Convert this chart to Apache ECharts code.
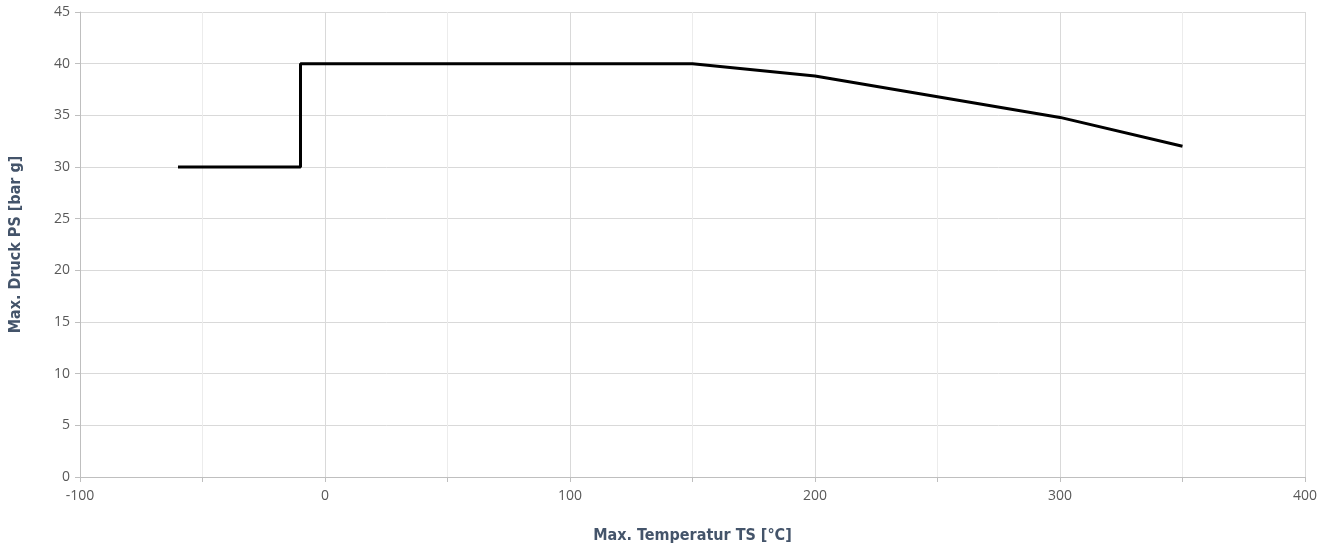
<!DOCTYPE html>
<html>
<head>
<meta charset="utf-8">
<script src="https://cdn.jsdelivr.net/npm/echarts@6/dist/echarts.min.js"></script>
<style>html,body{margin:0;padding:0;background:#fff}#c{width:1325px;height:549px}</style>
</head>
<body>
<div id="c"></div>
<script>
const temperatures = [-60, -10, -10, 150, 200, 300, 350];
const pressures = [30, 30, 40, 40, 38.8, 34.8, 32];
const xTitle = 'Max. Temperatur TS [°C]';
const yTitle = 'Max. Druck PS [bar g]';

const chart = echarts.init(document.getElementById('c'));
const labelFont = {color: '#595959', fontSize: 14, fontFamily: 'Open Sans, Liberation Sans, sans-serif'};
const nameFont = {color: '#44546a', fontSize: 16, fontWeight: 'bold', fontFamily: '"DejaVu Sans Condensed", "DejaVu Sans", sans-serif'};
chart.setOption({
  animation: false,
  grid: {left: 79, right: 20, top: 12, bottom: 72, containLabel: false},
  xAxis: {
    type: 'value', min: -100, max: 400, interval: 50,
    name: xTitle, nameLocation: 'middle', nameGap: 51, nameTextStyle: nameFont,
    axisLine: {show: true, onZero: false, lineStyle: {color: '#bfbfbf', width: 1}},
    axisTick: {show: true, length: 5, lineStyle: {color: '#bfbfbf'}},
    axisLabel: Object.assign({margin: 12, formatter: v => (v % 100 === 0 ? String(v) : '')}, labelFont),
    splitLine: {show: true, lineStyle: {color: ['#d9d9d9', '#ececec'], width: 1}}
  },
  yAxis: {
    type: 'value', min: 0, max: 45, interval: 5,
    name: yTitle, nameLocation: 'middle', nameGap: 56, nameTextStyle: nameFont,
    axisLine: {show: true, onZero: false, lineStyle: {color: '#bfbfbf', width: 1}},
    axisTick: {show: true, length: 5, lineStyle: {color: '#bfbfbf'}},
    axisLabel: Object.assign({margin: 10}, labelFont),
    splitLine: {show: true, lineStyle: {color: '#d9d9d9', width: 1}}
  },
  series: [{
    type: 'line',
    data: temperatures.map((t, i) => [t, pressures[i]]),
    showSymbol: false,
    lineStyle: {color: '#000', width: 3},
    itemStyle: {color: '#000'}
  }]
});
</script>
</body>
</html>
